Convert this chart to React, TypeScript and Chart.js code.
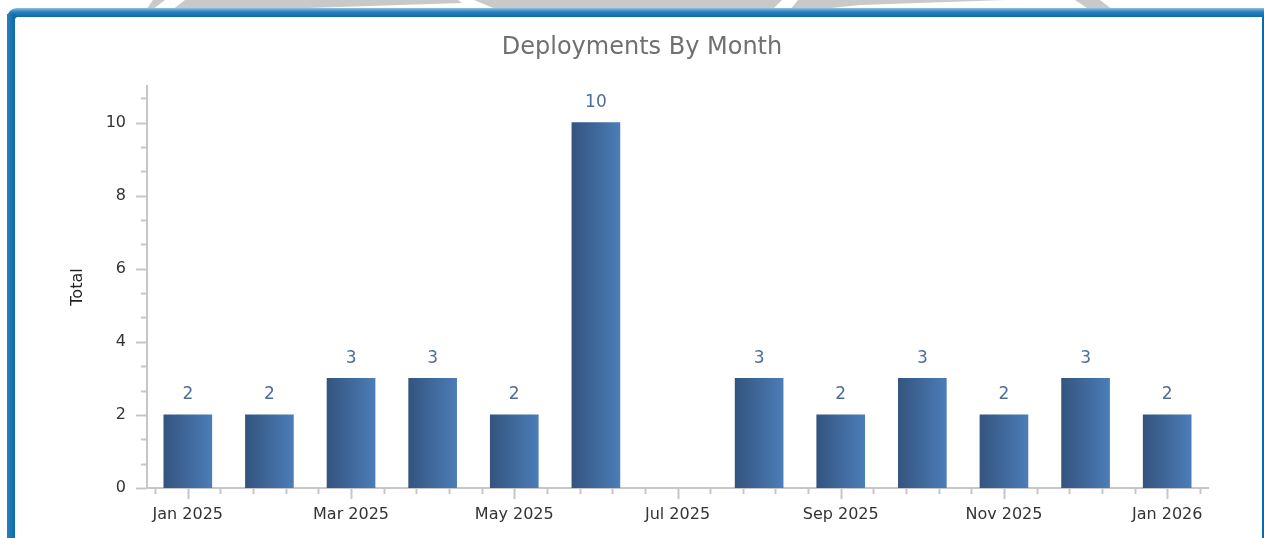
import React, { useEffect, useRef } from "react";
import { Chart, registerables } from "chart.js";

Chart.register(...registerables);

const chartTitle = "Deployments By Month";
const yAxisTitle = "Total";
const months = [
  "Jan 2025", "Feb 2025", "Mar 2025", "Apr 2025", "May 2025", "Jun 2025", "Jul 2025",
  "Aug 2025", "Sep 2025", "Oct 2025", "Nov 2025", "Dec 2025", "Jan 2026",
];
const deployments: (number | null)[] = [2, 2, 3, 3, 2, 10, null, 3, 2, 3, 2, 3, 2];
const xLabelIndices = [0, 2, 4, 6, 8, 10, 12];
const yTickValues = [0, 2, 4, 6, 8, 10];

const FONT = "'DejaVu Sans', Verdana, sans-serif";
const AXIS_COLOR = "#c6c6c6";
const BAR_W = 48;

const tickMarksPlugin = {
  id: "tickMarks",
  afterDraw(chart: any) {
    const { ctx, scales } = chart;
    const x = scales.x;
    const y = scales.y;
    ctx.save();
    ctx.strokeStyle = AXIS_COLOR;
    ctx.lineWidth = 2;
    const xBase = y.getPixelForValue(0) + 1;
    for (let k = -1; k <= 31; k++) {
      const v = k * 0.4;
      const px = Math.round(x.getPixelForValue(v)) + 0.5;
      const major = k % 5 === 0;
      ctx.beginPath();
      ctx.moveTo(px, xBase);
      ctx.lineTo(px, xBase + (major ? 10 : 5));
      ctx.stroke();
    }
    const yBase = x.left - 1;
    for (let k = 0; k <= 16; k++) {
      const v = (k * 2) / 3;
      const py = Math.round(y.getPixelForValue(v)) + 0.5;
      const major = k % 3 === 0;
      ctx.beginPath();
      ctx.moveTo(yBase, py);
      ctx.lineTo(yBase - (major ? 10 : 5), py);
      ctx.stroke();
    }
    ctx.restore();
  },
};

const valueLabelPlugin = {
  id: "valueLabels",
  afterDatasetsDraw(chart: any) {
    const { ctx } = chart;
    const meta = chart.getDatasetMeta(0);
    ctx.save();
    ctx.font = `17px ${FONT}`;
    ctx.fillStyle = "#4d6d9c";
    ctx.textAlign = "center";
    ctx.textBaseline = "middle";
    meta.data.forEach((el: any, i: number) => {
      const v = deployments[i];
      if (v === null || v === undefined || v === 0) return;
      ctx.fillText(String(v), el.x, el.y - 20);
    });
    ctx.restore();
  },
};

function barFill(c: any) {
  const chart = c.chart;
  const xs = chart && chart.scales && chart.scales.x;
  if (!xs || c.type !== "data") return "#3f67a0";
  const xv = c.parsed && Number.isFinite(c.parsed.x) ? c.parsed.x : c.dataIndex;
  const px = xs.getPixelForValue(xv);
  if (!Number.isFinite(px)) return "#3f67a0";
  const g = chart.ctx.createLinearGradient(px - BAR_W / 2, 0, px + BAR_W / 2, 0);
  g.addColorStop(0, "#34547f");
  g.addColorStop(1, "#4b7db8");
  return g;
}

function ChartCanvas() {
  const ref = useRef<HTMLCanvasElement | null>(null);
  useEffect(() => {
    if (!ref.current) return;
    const chart = new Chart(ref.current, {
      type: "bar",
      data: {
        datasets: [
          {
            label: yAxisTitle,
            data: deployments.map((v, i) => ({ x: i, y: v })) as any,
            barThickness: BAR_W,
            borderWidth: 0,
            backgroundColor: barFill,
          },
        ],
      },
      options: {
        animation: false,
        responsive: false,
        devicePixelRatio: 1,
        layout: { padding: { left: 20, right: 0, top: 0, bottom: 0 } },
        plugins: {
          legend: { display: false },
          tooltip: { enabled: false },
          title: {
            display: true,
            text: chartTitle,
            color: "#707070",
            font: { family: FONT, size: 24, weight: "normal" },
            padding: { top: 33.6, bottom: 23.6 },
          },
        },
        scales: {
          x: {
            type: "linear",
            offset: false,
            min: -0.5,
            max: 12.5,
            afterBuildTicks: (s: any) => {
              s.ticks = xLabelIndices.map((v) => ({ value: v }));
            },
            afterFit: (s: any) => {
              s.height = 50;
            },
            ticks: {
              autoSkip: false,
              maxRotation: 0,
              padding: 17,
              color: "#333333",
              font: { family: FONT, size: 16 },
              callback: (v: any) => months[v] ?? "",
            },
            grid: { display: false, drawTicks: false, offset: false },
            border: { display: true, color: AXIS_COLOR, width: 2 },
          },
          y: {
            type: "linear",
            min: 0,
            max: 11,
            afterBuildTicks: (s: any) => {
              s.ticks = yTickValues.map((v) => ({ value: v }));
            },
            afterFit: (s: any) => {
              s.width = 127;
            },
            ticks: {
              padding: 21,
              color: "#333333",
              font: { family: FONT, size: 16 },
              callback: (v: any) => String(v),
            },
            grid: { display: false, drawTicks: false },
            border: { display: true, color: AXIS_COLOR, width: 2 },
            title: {
              display: true,
              text: yAxisTitle,
              color: "#222222",
              font: { family: FONT, size: 16 },
              padding: { top: 48.4, bottom: 0 },
            },
          },
          spacer: {
            type: "linear",
            position: "right",
            display: true,
            min: 0,
            max: 1,
            afterFit: (s: any) => {
              s.width = 56;
            },
            ticks: { display: false },
            grid: { display: false, drawTicks: false },
            border: { display: false },
          },
        },
      },
      plugins: [tickMarksPlugin, valueLabelPlugin],
    } as any);
    return () => chart.destroy();
  }, []);
  return (
    <canvas
      ref={ref}
      width={1264}
      height={538}
      style={{ position: "absolute", left: 0, top: 0, width: 1264, height: 538 }}
    />
  );
}

export default function App() {
  return (
    <div
      style={{
        position: "absolute",
        left: 0,
        top: 0,
        width: 1264,
        height: 538,
        overflow: "hidden",
        background: "#ffffff",
      }}
    >
      <svg width={1264} height={12} style={{ position: "absolute", left: 0, top: 0 }}>
        <g fill="#c9c9c9">
          <polygon points="153,0 165,0 152,10 146,10" />
          <polygon points="185,0 458,0 462,3 250,10 172,10" />
          <polygon points="474,0 782,0 772,10 498,10" />
          <polygon points="798,0 1005,0 860,5 812,10 790,10" />
          <polygon points="1075,0 1100,0 1113,10 1090,10" />
        </g>
      </svg>
      <div
        style={{
          position: "absolute",
          left: 7,
          top: 8,
          width: 1257,
          height: 560,
          borderTopLeftRadius: 10,
          background: "linear-gradient(to bottom, #8cc0e0 0px, #2a80bb 4px, #0b6ba9 9px)",
        }}
      />
      <div
        style={{
          position: "absolute",
          left: 7,
          top: 14,
          width: 8,
          height: 560,
          background: "linear-gradient(to right, #2a80bd, #0b6ba9)",
        }}
      />
      <div
        style={{
          position: "absolute",
          left: 15,
          top: 17,
          width: 1247,
          height: 560,
          borderTopLeftRadius: 3,
          background: "#ffffff",
        }}
      />
      <ChartCanvas />
    </div>
  );
}
